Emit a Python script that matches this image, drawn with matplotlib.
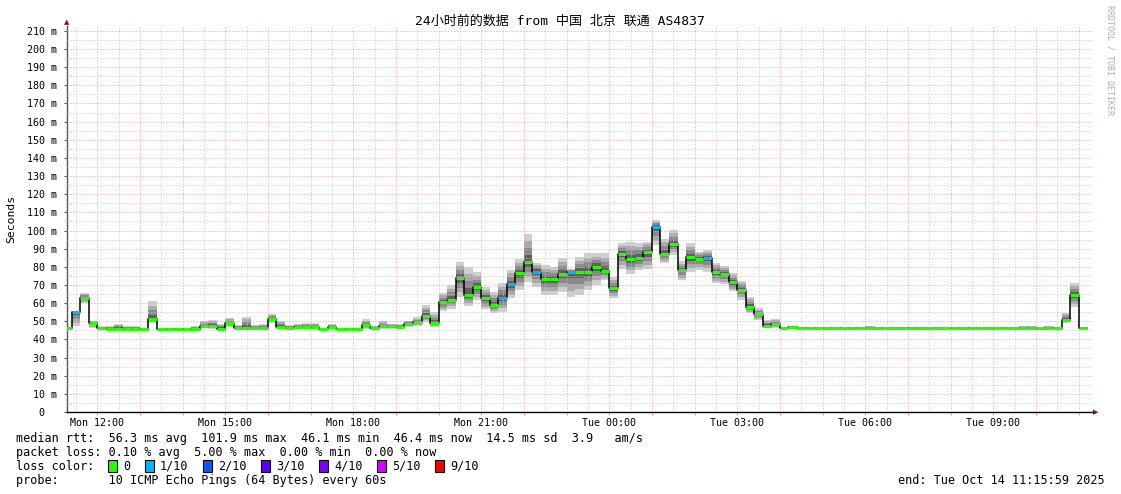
import numpy as np
import matplotlib
matplotlib.use("Agg")
import matplotlib.pyplot as plt
from matplotlib.patches import Rectangle

W, H = 1121, 494
MONO = "DejaVu Sans Mono"

# 12-minute steps, first step starts Mon 11:12 (hours from Mon 00:00)
step_start = 11.2
step_len = 0.2

# median rtt per step (ms)
median = [
    46.1, 55.3, 63.0, 48.9, 46.1, 46.0, 46.0, 46.0, 46.0, 46.0,
    51.1, 46.0, 46.0, 46.0, 46.0, 46.0, 47.3, 47.6, 46.0, 48.9,
    46.5, 46.5, 46.5, 46.5, 51.1, 47.0, 46.5, 47.0, 47.0, 47.0,
    46.0, 47.0, 46.0, 46.0, 46.0, 48.0, 46.5, 47.5, 47.5, 47.0,
    48.5, 49.4, 52.9, 48.9, 60.6, 61.8, 73.9, 64.5, 68.7, 62.6,
    59.0, 63.0, 70.4, 76.4, 82.9, 77.3, 73.1, 73.1, 76.0, 77.0,
    77.0, 77.0, 80.0, 77.8, 68.1, 87.2, 84.3, 85.0, 87.9, 102.0,
    87.2, 92.6, 78.3, 85.4, 84.5, 85.0, 77.0, 76.1, 71.5, 67.3,
    58.1, 53.9, 47.5, 48.3, 46.1, 46.7, 46.4, 46.4, 46.4, 46.4,
    46.4, 46.4, 46.4, 46.4, 46.4, 46.4, 46.4, 46.4, 46.4, 46.4,
    46.4, 46.4, 46.4, 46.4, 46.4, 46.4, 46.4, 46.4, 46.4, 46.4,
    46.4, 46.4, 46.5, 46.5, 46.4, 46.4, 46.4, 50.7, 64.7, 46.5,
]
# smoke extent (fastest / slowest ping) per step
smoke_lo = [
    46.0, 47.3, 60.0, 46.5, 46.0, 45.9, 45.9, 45.9, 45.9, 45.9,
    48.9, 45.9, 45.9, 45.9, 45.9, 45.9, 46.5, 46.0, 45.9, 46.6,
    46.0, 46.0, 46.0, 46.0, 48.9, 46.0, 46.0, 46.0, 45.6, 46.0,
    45.9, 46.0, 45.9, 45.9, 45.9, 46.0, 46.0, 46.0, 46.0, 46.0,
    47.0, 47.4, 49.8, 47.0, 55.4, 57.0, 63.2, 58.4, 61.8, 56.6,
    54.4, 55.3, 62.6, 67.2, 71.8, 69.0, 64.5, 64.5, 66.3, 63.6,
    64.5, 67.2, 70.0, 72.8, 62.6, 79.0, 76.0, 78.3, 78.6, 92.0,
    81.9, 86.5, 72.6, 77.4, 78.3, 77.4, 70.9, 70.5, 66.4, 61.8,
    54.4, 50.7, 46.1, 46.1, 45.9, 46.0, 46.2, 46.2, 46.2, 46.2,
    46.2, 46.2, 46.2, 46.2, 46.2, 46.2, 46.2, 46.2, 46.2, 46.2,
    46.2, 46.2, 46.2, 46.2, 46.2, 46.2, 46.2, 46.2, 46.2, 46.2,
    46.2, 46.2, 46.2, 46.2, 46.2, 46.2, 46.2, 49.0, 58.0, 46.2,
]
smoke_hi = [
    46.5, 55.5, 65.4, 50.2, 47.3, 47.3, 48.4, 47.3, 47.3, 46.5,
    61.2, 46.5, 46.5, 46.5, 46.5, 47.3, 50.2, 50.8, 48.5, 51.8,
    48.0, 52.6, 48.0, 48.4, 54.2, 50.3, 48.0, 48.4, 48.9, 49.0,
    46.5, 48.4, 46.5, 46.5, 46.5, 51.0, 47.5, 50.0, 48.5, 48.5,
    50.4, 52.1, 59.0, 55.2, 65.4, 70.0, 82.5, 79.7, 77.3, 69.0,
    66.3, 71.0, 78.3, 84.3, 98.3, 82.3, 81.0, 80.0, 84.7, 79.0,
    85.6, 87.8, 87.4, 87.4, 74.5, 93.0, 93.9, 93.0, 93.9, 105.8,
    95.6, 100.3, 83.0, 93.0, 88.4, 89.3, 82.3, 80.5, 76.5, 72.4,
    63.3, 57.2, 50.7, 51.3, 46.5, 47.5, 46.8, 46.8, 46.8, 46.8,
    46.8, 46.8, 46.8, 46.8, 47.5, 46.8, 46.8, 46.8, 46.8, 46.8,
    46.8, 46.8, 46.8, 46.8, 46.8, 46.8, 46.8, 46.8, 46.8, 46.8,
    46.8, 46.8, 47.6, 47.6, 46.8, 47.6, 46.8, 54.8, 71.0, 46.8,
]
# lost pings out of 10 per step
loss = [
    0, 1, 0, 0, 0, 0, 0, 0, 0, 0, 0, 0, 0, 0, 0, 0, 0, 0, 0, 0,
    0, 0, 0, 0, 0, 0, 0, 0, 0, 0, 0, 0, 0, 0, 0, 0, 0, 0, 0, 0,
    0, 0, 0, 0, 0, 0, 0, 0, 0, 0, 0, 1, 1, 0, 0, 1, 0, 0, 0, 1,
    0, 0, 0, 0, 0, 0, 0, 0, 0, 1, 0, 0, 0, 0, 0, 1, 0, 0, 0, 0,
    0, 0, 0, 0, 0, 0, 0, 0, 0, 0, 0, 0, 0, 0, 0, 0, 0, 0, 0, 0,
    0, 0, 0, 0, 0, 0, 0, 0, 0, 0, 0, 0, 0, 0, 0, 0, 0, 0, 0, 0,
]

loss_labels = ["0", "1/10", "2/10", "3/10", "4/10", "5/10", "9/10"]
loss_colors = ["#26ff00", "#00b8ff", "#0059ff", "#5e00ff", "#7e00ff", "#dd00ff", "#ff0000"]

tick_hours = [12, 15, 18, 21, 24, 27, 30, 33]
tick_labels = ["Mon 12:00", "Mon 15:00", "Mon 18:00", "Mon 21:00",
               "Tue 00:00", "Tue 03:00", "Tue 06:00", "Tue 09:00"]

title = "24小时前的数据 from 中国 北京 联通 AS4837"
stats = [
    "median rtt:  56.3 ms avg  101.9 ms max  46.1 ms min  46.4 ms now  14.5 ms sd  3.9   am/s",
    "packet loss: 0.10 % avg  5.00 % max  0.00 % min  0.00 % now",
]
probe = "probe:       10 ICMP Echo Pings (64 Bytes) every 60s"
end_text = "end: Tue Oct 14 11:15:59 2025"


def fx(px):
    return px / W


def fy(py):
    return 1 - py / H


fig = plt.figure(figsize=(W / 100, H / 100), dpi=100)
ax_w = (1093 - 67) / W
ax = fig.add_axes([fx(67), fy(412), ax_w, (412 - 26) / H])
x_min, x_max = 11.29, 35.337
ax.set_xlim(x_min, x_max)
ax.set_ylim(0, 212.7)

med = np.array(median)
lo = np.array(smoke_lo)
hi = np.array(smoke_hi)
n = len(med)
edges = step_start + step_len * np.arange(n + 1)
xs = np.repeat(edges, 2)[1:-1]

# smoke: nested bands, darker toward the median
shades = [(1.0, "#cfcfcf"), (0.75, "#ababab"), (0.5, "#8a8a8a"), (0.25, "#5f5f5f")]
for frac, col in shades:
    lo_b = med - (med - lo) * frac
    hi_b = med + (hi - med) * frac
    ax.fill_between(xs, np.repeat(lo_b, 2), np.repeat(hi_b, 2),
                    color=col, linewidth=0, zorder=2)

# grid, dotted
dot = dict(linestyle=(0, (1, 2)), linewidth=0.72, zorder=3)
for h in np.arange(11.5, 35.0, 1.0):
    ax.axvline(h, color="#c9c9c9", **dot)
for h in range(12, 36):
    ax.axvline(h, color="#f0a0a0", **dot)
for v in range(5, 211, 10):
    ax.axhline(v, color="#c9c9c9", **dot)
for v in range(10, 211, 10):
    ax.axhline(v, color="#f0a0a0", **dot)

# median: black step line plus loss-coloured segments
ax.plot(xs, np.repeat(med, 2), color="black", linewidth=1.1, zorder=4)
seg_colors = [loss_colors[l] for l in loss]
ax.hlines(med, edges[:-1], edges[1:], colors=seg_colors, linewidth=2.2, zorder=5)

for s in ["top", "right"]:
    ax.spines[s].set_visible(False)
ax.spines["left"].set_color("#555555")
ax.spines["bottom"].set_color("black")
ax.spines["left"].set_linewidth(1.0)
ax.spines["bottom"].set_linewidth(1.0)

yt = list(range(0, 211, 10))
ax.set_yticks(yt)
ax.set_yticklabels(["0  "] + [f"{v} m" for v in yt[1:]], fontfamily=MONO, fontsize=7.2)
ax.set_xticks(tick_hours)
ax.set_xticklabels(tick_labels, fontfamily=MONO, fontsize=7.2)
ax.set_xticks(range(12, 36), minor=True)
ax.tick_params(axis="y", length=2, width=0.8, color="#555555", pad=5, direction="out")
ax.tick_params(axis="x", which="both", length=2, width=0.8, color="#f0a0a0", pad=2, direction="out")

# axis arrows
fig.text(fx(67), fy(22), "▲", color="#7a1a1a", fontsize=5, ha="center", va="center")
fig.text(fx(1096), fy(412), "▶", color="#7a1a1a", fontsize=5, ha="center", va="center")
fig.add_artist(plt.Line2D([fx(1093), fx(1095)], [fy(412), fy(412)], color="black", lw=1.0))

ax.set_ylabel("Seconds", fontfamily=MONO, fontsize=8.2)
ax.yaxis.set_label_coords((16 - 67) / 1026, 0.5)

fig.text(fx(560), fy(21), title, family=[MONO, "Noto Sans CJK SC"], fontsize=9.4,
         ha="center", va="center")
fig.text(fx(1110), fy(5), "RRDTOOL / TOBI OETIKER", family=MONO, fontsize=6,
         color="#b0b0b0", rotation=-90, ha="center", va="top")

fig.text(fx(16), fy(438), stats[0], family=MONO, fontsize=8.5, va="center")
fig.text(fx(16), fy(452), stats[1], family=MONO, fontsize=8.5, va="center")
fig.text(fx(16), fy(466), "loss color:", family=MONO, fontsize=8.5, va="center")
box_x = [108, 145, 203, 261, 319, 377, 435]
for bx, lab, col in zip(box_x, loss_labels, loss_colors):
    fig.add_artist(Rectangle((fx(bx), fy(472)), 9 / W, 12 / H, facecolor=col,
                             edgecolor="black", linewidth=0.8))
    fig.text(fx(bx + 15), fy(466), lab, family=MONO, fontsize=8.5, va="center")
fig.text(fx(16), fy(480), probe, family=MONO, fontsize=8.5, va="center")
fig.text(fx(1105), fy(480), end_text, family=MONO, fontsize=8.5, va="center", ha="right")

fig.savefig("out.png", dpi=100, facecolor="white")
